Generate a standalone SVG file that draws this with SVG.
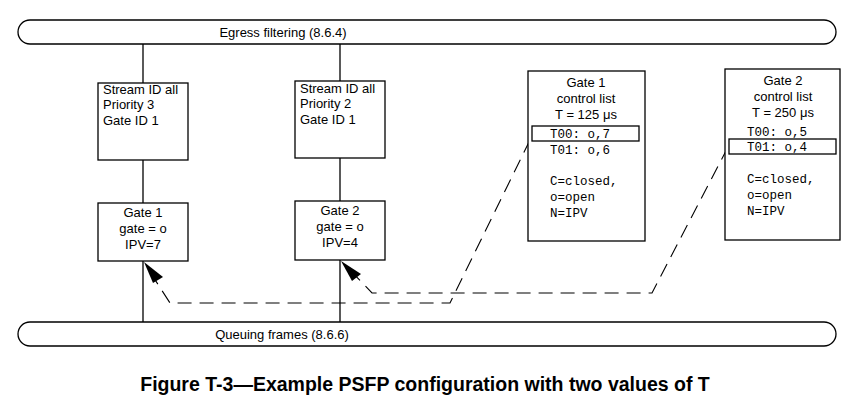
<svg xmlns="http://www.w3.org/2000/svg" width="855" height="405" viewBox="0 0 855 405">
<style>
.b{fill:#fff;stroke:#000;stroke-width:1.3}
.t{font-family:"Liberation Sans",Arial,sans-serif;font-size:13px;fill:#000}
.m{font-family:"Liberation Mono","Courier New",monospace;font-size:12.5px;fill:#000}
.c{text-anchor:middle}
.d{fill:none;stroke:#000;stroke-width:1.1;stroke-dasharray:14,8}
</style>
<g id="connectors" stroke="#000" stroke-width="1.3">
<line x1="143" y1="44" x2="143" y2="83"/><line x1="143" y1="160" x2="143" y2="203"/><line x1="143" y1="261" x2="143" y2="322"/>
<line x1="340" y1="44" x2="340" y2="81"/><line x1="340" y1="158" x2="340" y2="201"/><line x1="340" y1="260" x2="340" y2="322"/>
<polyline class="d" points="530,140 450,303 170,303 150,272"/>
<path d="M144,262 L163,277 L153,283 z" fill="#000" stroke="none"/>
<polyline class="d" points="728,147 652,293 372,293 350,270"/>
<path d="M341,261 L361,274 L352,281 z" fill="#000" stroke="none"/>
</g>
<g id="egress"><rect class="b" x="18" y="20" width="818" height="24" rx="12"/><text class="t c" x="283" y="37">Egress filtering (8.6.4)</text></g>
<g id="queuing"><rect class="b" x="18" y="322" width="818" height="24" rx="12"/><text class="t c" x="282" y="339">Queuing frames (8.6.6)</text></g>
<g id="stream1"><rect class="b" x="98" y="83" width="90" height="77"/><text class="t" x="103" y="94">Stream ID all</text><text class="t" x="103" y="109">Priority 3</text><text class="t" x="103" y="125">Gate ID 1</text></g>
<g id="stream2"><rect class="b" x="295" y="81" width="90" height="77"/><text class="t" x="300" y="93">Stream ID all</text><text class="t" x="300" y="108">Priority 2</text><text class="t" x="300" y="124">Gate ID 1</text></g>
<g id="gate1"><rect class="b" x="98" y="203" width="90" height="58"/><text class="t c" x="143" y="217">Gate 1</text><text class="t c" x="143" y="233">gate = o</text><text class="t c" x="143" y="249">IPV=7</text></g>
<g id="gate2"><rect class="b" x="295" y="201" width="90" height="59"/><text class="t c" x="340" y="215">Gate 2</text><text class="t c" x="340" y="231">gate = o</text><text class="t c" x="340" y="247">IPV=4</text></g>
<g id="list1"><rect class="b" x="528" y="71" width="117" height="170"/>
<text class="t c" x="586" y="87">Gate 1</text><text class="t c" x="586" y="103">control list</text><text class="t c" x="586" y="119">T = 125 μs</text>
<rect fill="none" stroke="#000" stroke-width="1.3" x="532" y="126" width="107" height="15"/>
<text class="m" x="550" y="138">T00: o,7</text><text class="m" x="550" y="154">T01: o,6</text>
<text class="m" x="550" y="185">C=closed,</text><text class="m" x="550" y="201">o=open</text><text class="m" x="550" y="217">N=IPV</text></g>
<g id="list2"><rect class="b" x="725" y="69" width="115" height="171"/>
<text class="t c" x="783" y="85">Gate 2</text><text class="t c" x="783" y="101">control list</text><text class="t c" x="783" y="117">T = 250 μs</text>
<rect fill="none" stroke="#000" stroke-width="1.3" x="729" y="139" width="107" height="15"/>
<text class="m" x="747" y="136">T00: o,5</text><text class="m" x="747" y="151">T01: o,4</text>
<text class="m" x="747" y="183">C=closed,</text><text class="m" x="747" y="199">o=open</text><text class="m" x="747" y="215">N=IPV</text></g>
<text x="425" y="391" text-anchor="middle" font-family="Liberation Sans,Arial,sans-serif" font-weight="bold" font-size="19.5">Figure T-3—Example PSFP configuration with two values of T</text>
</svg>
